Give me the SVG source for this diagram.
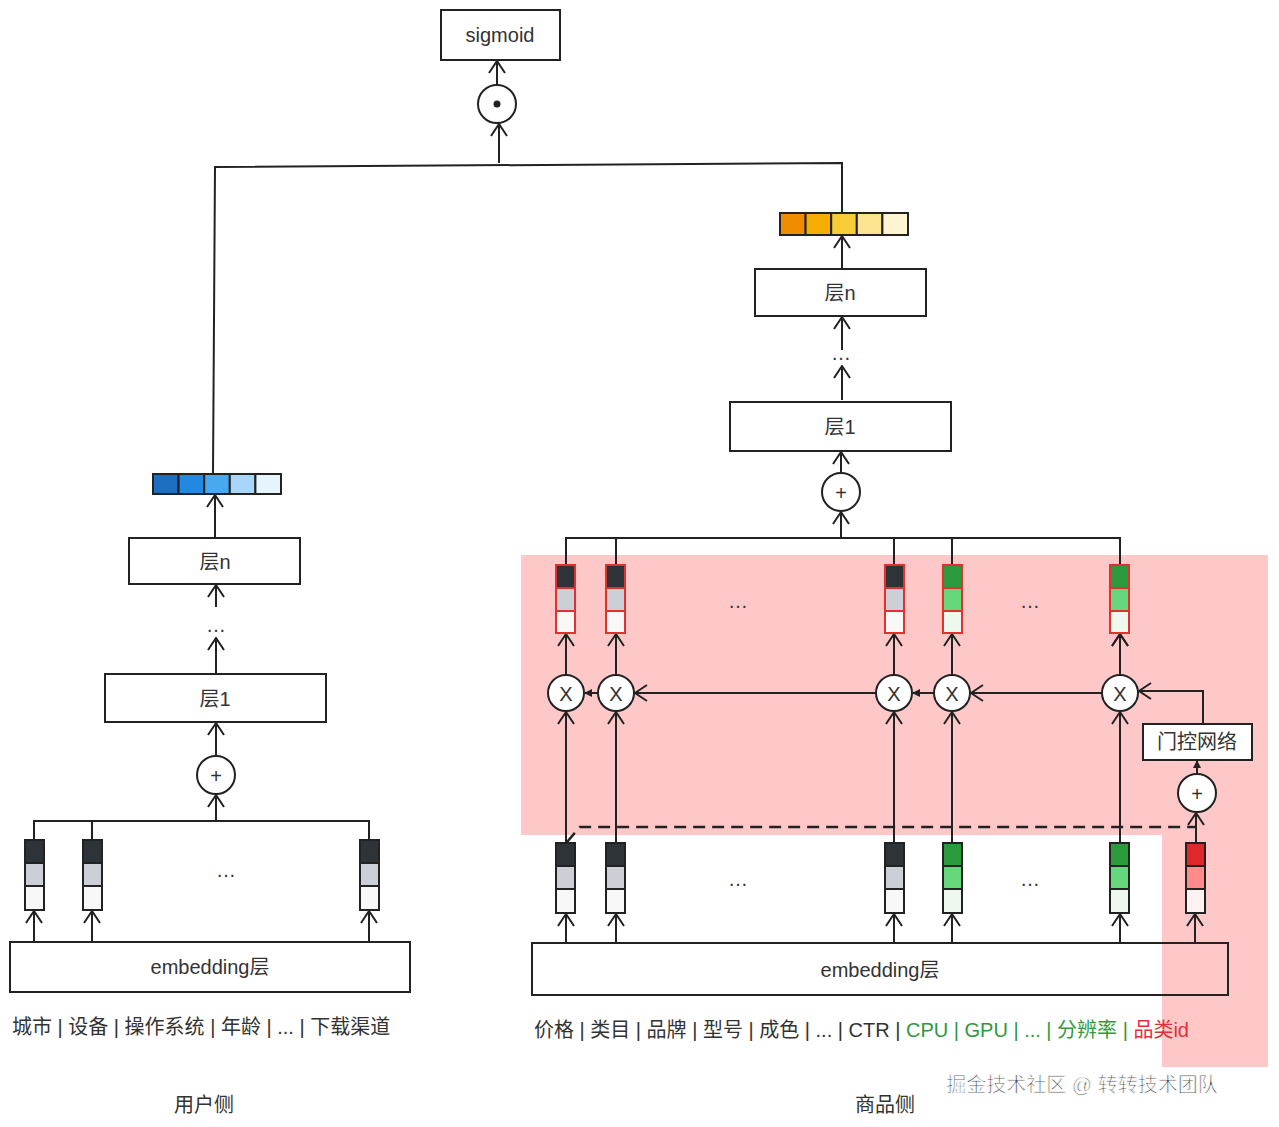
<svg xmlns="http://www.w3.org/2000/svg" width="1279" height="1127" viewBox="0 0 1279 1127">
<style>
.b{fill:#fff;stroke:#222;stroke-width:2}
.t{font-family:"Liberation Sans","Noto Sans CJK SC",sans-serif;font-size:20px;fill:#333;text-anchor:middle}
.l{fill:none;stroke:#222;stroke-width:2}
.c{fill:none;stroke:#222;stroke-width:1.5}
.d{fill:#2e3338}.g{fill:#ccd0d6}.w{fill:#f8f8f8}
.gd{fill:#2b9a3c}.gm{fill:#66d67a}.gw{fill:#eef8ef}
</style>
<defs>
<marker id="a" viewBox="0 0 14 20" refX="13" refY="10" markerWidth="14" markerHeight="20" markerUnits="userSpaceOnUse" orient="auto"><path d="M1,2 L13,10 L1,18" fill="none" stroke="#222" stroke-width="2"/></marker>
<marker id="s" viewBox="0 0 8 8" refX="7" refY="4" markerWidth="8" markerHeight="8" markerUnits="userSpaceOnUse" orient="auto"><path d="M0,0 L8,4 L0,8z" fill="#222"/></marker>
</defs>
<rect width="1279" height="1127" fill="#fff"/>
<path d="M521,555 H1268 V1067 H1162 V835 H521z" fill="#ffc8c8"/>
<g id="connectors" class="l">
<path d="M497,85 V61" marker-end="url(#a)"/>
<path d="M213,473 L215,167 L842,163 V213"/>
<path d="M499,163 V124" marker-end="url(#a)"/>
<path d="M842,268 V236" marker-end="url(#a)"/>
<path d="M842,350 V317" marker-end="url(#a)"/>
<path d="M842,400 V366" marker-end="url(#a)"/>
<path d="M841,473 V452" marker-end="url(#a)"/>
<path d="M566,565 V538 H1120 V565 M616,538 V565 M894,538 V565 M952,538 V565"/>
<path d="M841,538 V512" marker-end="url(#a)"/>
<path d="M566,675 V634 M616,675 V634 M894,675 V634 M952,675 V634 M1120,675 V634" marker-end="url(#a)"/>
<path d="M566,675 V634" marker-end="url(#a)"/>
<path d="M616,675 V634" marker-end="url(#a)"/>
<path d="M894,675 V634" marker-end="url(#a)"/>
<path d="M952,675 V634" marker-end="url(#a)"/>
<path d="M1120,675 V634" marker-end="url(#a)"/>
<path d="M566,843 V712" marker-end="url(#a)"/>
<path d="M616,843 V712" marker-end="url(#a)"/>
<path d="M894,843 V712" marker-end="url(#a)"/>
<path d="M952,843 V712" marker-end="url(#a)"/>
<path d="M1120,843 V712" marker-end="url(#a)"/>
<path d="M1203,724 V691 H1139" marker-end="url(#a)"/>
<path d="M1102,693 H971" marker-end="url(#a)"/>
<path d="M934,693 H913" marker-end="url(#s)"/>
<path d="M876,693 H635" marker-end="url(#a)"/>
<path d="M598,693 H585" marker-end="url(#s)"/>
<path d="M566,942 V914" marker-end="url(#a)"/>
<path d="M616,942 V914" marker-end="url(#a)"/>
<path d="M894,942 V914" marker-end="url(#a)"/>
<path d="M952,942 V914" marker-end="url(#a)"/>
<path d="M1120,942 V914" marker-end="url(#a)"/>
<path d="M1195,942 V914" marker-end="url(#a)"/>
<path d="M1196,843 V813" marker-end="url(#a)"/>
<path d="M1197,774 V761" marker-end="url(#s)"/>
<path d="M567,842 L580,827 H1196" stroke-dasharray="12,7" stroke-width="2.5"/>
<path d="M215,537 V495" marker-end="url(#a)"/>
<path d="M216,607 V585" marker-end="url(#a)"/>
<path d="M216,673 V638" marker-end="url(#a)"/>
<path d="M216,756 V723" marker-end="url(#a)"/>
<path d="M34,840 V821 H369 V840 M92,821 V840"/>
<path d="M216,821 V795" marker-end="url(#a)"/>
<path d="M34,941 V911" marker-end="url(#a)"/>
<path d="M92,941 V911" marker-end="url(#a)"/>
<path d="M369,941 V911" marker-end="url(#a)"/>
</g>
<g id="sigmoid"><rect class="b" x="441" y="10" width="119" height="50"/><text class="t" x="500" y="42">sigmoid</text></g>
<g id="dot"><circle class="b" cx="497" cy="104" r="19"/><circle cx="497" cy="104" r="3.5" fill="#222"/></g>
<g id="vec-item" stroke="#222" stroke-width="2">
<rect x="780" y="213" width="25.6" height="22" fill="#ef8c00"/><rect x="805.6" y="213" width="25.6" height="22" fill="#f5ad00"/><rect x="831.2" y="213" width="25.6" height="22" fill="#f8cc36"/><rect x="856.8" y="213" width="25.6" height="22" fill="#fbe38f"/><rect x="882.4" y="213" width="25.6" height="22" fill="#fdf4d2"/>
</g>
<g id="item-layern"><rect class="b" x="755" y="269" width="171" height="47"/><text class="t" x="840" y="300">层n</text></g>
<text class="t" x="841" y="360">…</text>
<g id="item-layer1"><rect class="b" x="730" y="402" width="221" height="49"/><text class="t" x="840" y="434">层1</text></g>
<g id="item-plus"><circle class="b" cx="841" cy="492" r="19"/><text class="t" x="841" y="500" font-size="24">+</text></g>
<g id="item-top-vecs" stroke="#e03030" stroke-width="2">
<rect class="d" x="556" y="565" width="19" height="23"/><rect class="g" x="556" y="588" width="19" height="23"/><rect class="w" x="556" y="611" width="19" height="22"/>
<rect class="d" x="606" y="565" width="19" height="23"/><rect class="g" x="606" y="588" width="19" height="23"/><rect class="w" x="606" y="611" width="19" height="22"/>
<rect class="d" x="885" y="565" width="19" height="23"/><rect class="g" x="885" y="588" width="19" height="23"/><rect class="w" x="885" y="611" width="19" height="22"/>
<rect class="gd" x="943" y="565" width="19" height="23"/><rect class="gm" x="943" y="588" width="19" height="23"/><rect class="gw" x="943" y="611" width="19" height="22"/>
<rect class="gd" x="1110" y="565" width="19" height="23"/><rect class="gm" x="1110" y="588" width="19" height="23"/><rect class="gw" x="1110" y="611" width="19" height="22"/>
</g>
<text class="t" x="738" y="608">…</text><text class="t" x="1030" y="608">…</text>
<g id="mults">
<circle class="b" cx="566" cy="693" r="18"/><text class="t" x="566" y="701">X</text>
<circle class="b" cx="616" cy="693" r="18"/><text class="t" x="616" y="701">X</text>
<circle class="b" cx="894" cy="693" r="18"/><text class="t" x="894" y="701">X</text>
<circle class="b" cx="952" cy="693" r="18"/><text class="t" x="952" y="701">X</text>
<circle class="b" cx="1120" cy="693" r="18"/><text class="t" x="1120" y="701">X</text>
</g>
<g id="gate"><rect class="b" x="1143" y="724" width="109" height="36"/><text class="t" x="1197" y="749">门控网络</text></g>
<g id="gate-plus"><circle class="b" cx="1197" cy="793" r="19"/><text class="t" x="1197" y="801" font-size="24">+</text></g>
<g id="item-bottom-vecs" stroke="#222" stroke-width="2">
<rect class="d" x="556" y="843" width="19" height="23"/><rect class="g" x="556" y="866" width="19" height="23"/><rect class="w" x="556" y="889" width="19" height="24"/>
<rect class="d" x="606" y="843" width="19" height="23"/><rect class="g" x="606" y="866" width="19" height="23"/><rect class="w" x="606" y="889" width="19" height="24"/>
<rect class="d" x="885" y="843" width="19" height="23"/><rect class="g" x="885" y="866" width="19" height="23"/><rect class="w" x="885" y="889" width="19" height="24"/>
<rect class="gd" x="943" y="843" width="19" height="23"/><rect class="gm" x="943" y="866" width="19" height="23"/><rect class="gw" x="943" y="889" width="19" height="24"/>
<rect class="gd" x="1110" y="843" width="19" height="23"/><rect class="gm" x="1110" y="866" width="19" height="23"/><rect class="gw" x="1110" y="889" width="19" height="24"/>
<rect fill="#e02828" x="1186" y="843" width="19" height="23"/><rect fill="#ff8a8a" x="1186" y="866" width="19" height="23"/><rect fill="#fdf2f2" x="1186" y="889" width="19" height="24"/>
</g>
<text class="t" x="738" y="886">…</text><text class="t" x="1030" y="886">…</text>
<g id="item-embedding"><rect x="532" y="943" width="696" height="52" fill="none" stroke="#222" stroke-width="2"/><text class="t" x="880" y="977">embedding层</text></g>
<text class="t" x="534" y="1037" style="text-anchor:start">价格 | 类目 | 品牌 | 型号 | 成色 | ... | CTR |<tspan fill="#2e9a3c"> CPU | GPU | ... | 分辨率 | </tspan><tspan fill="#e0303a">品类id</tspan></text>
<g id="vec-user" stroke="#222" stroke-width="2">
<rect x="153" y="474" width="25.6" height="20" fill="#1c6fc0"/><rect x="178.6" y="474" width="25.6" height="20" fill="#2189e0"/><rect x="204.2" y="474" width="25.6" height="20" fill="#48a8f0"/><rect x="229.8" y="474" width="25.6" height="20" fill="#a8d6fb"/><rect x="255.4" y="474" width="25.6" height="20" fill="#e6f4fe"/>
</g>
<g id="user-layern"><rect class="b" x="129" y="538" width="171" height="46"/><text class="t" x="215" y="569">层n</text></g>
<text class="t" x="216" y="632">…</text>
<g id="user-layer1"><rect class="b" x="105" y="674" width="221" height="48"/><text class="t" x="215" y="706">层1</text></g>
<g id="user-plus"><circle class="b" cx="216" cy="775" r="19"/><text class="t" x="216" y="783" font-size="24">+</text></g>
<g id="user-vecs" stroke="#222" stroke-width="2">
<rect class="d" x="25" y="840" width="19" height="23"/><rect class="g" x="25" y="863" width="19" height="23"/><rect class="w" x="25" y="886" width="19" height="24"/>
<rect class="d" x="83" y="840" width="19" height="23"/><rect class="g" x="83" y="863" width="19" height="23"/><rect class="w" x="83" y="886" width="19" height="24"/>
<rect class="d" x="360" y="840" width="19" height="23"/><rect class="g" x="360" y="863" width="19" height="23"/><rect class="w" x="360" y="886" width="19" height="24"/>
</g>
<text class="t" x="226" y="877">…</text>
<g id="user-embedding"><rect class="b" x="10" y="942" width="400" height="50"/><text class="t" x="210" y="974">embedding层</text></g>
<text class="t" x="12" y="1034" style="text-anchor:start">城市 | 设备 | 操作系统 | 年龄 | ... | 下载渠道</text>
<text class="t" x="204" y="1112">用户侧</text>
<text class="t" x="885" y="1112">商品侧</text>
<text class="t" x="1082" y="1092" font-size="24" fill="#555" stroke="#fff" stroke-width="0.8">掘金技术社区 @ 转转技术团队</text>
</svg>
